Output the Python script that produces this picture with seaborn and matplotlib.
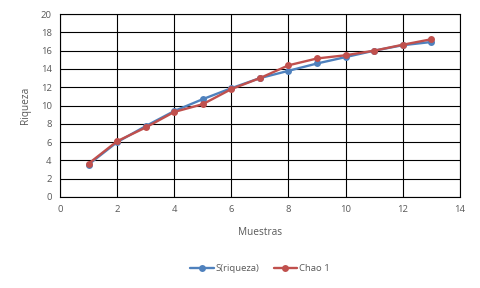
import pandas as pd
import matplotlib
matplotlib.use('Agg')
import matplotlib.pyplot as plt
import seaborn as sns

muestras = [1, 2, 3, 4, 5, 6, 7, 8, 9, 10, 11, 12, 13]
s_riqueza = [3.55, 6.0, 7.75, 9.4, 10.7, 11.9, 13.0, 13.8, 14.6, 15.3, 16.0, 16.6, 16.95]
chao1 = [3.65, 6.1, 7.6, 9.3, 10.15, 11.8, 13.0, 14.4, 15.15, 15.5, 16.0, 16.65, 17.25]

df = pd.DataFrame({'Muestras': muestras, 'S(riqueza)': s_riqueza, 'Chao 1': chao1})
melted = df.melt(id_vars='Muestras', var_name='Serie', value_name='Riqueza')

sns.set_style('white')
plt.rcParams['font.family'] = ['Open Sans', 'DejaVu Sans']

fig = plt.figure(figsize=(4.8, 2.88), dpi=100)
ax = fig.add_axes([0.125, 0.316, 0.833, 0.635])
sns.lineplot(data=melted, x='Muestras', y='Riqueza', hue='Serie', ax=ax,
             palette={'S(riqueza)': '#4F81BD', 'Chao 1': '#C0504D'},
             marker='o', markersize=5, markeredgewidth=0, linewidth=1.7)

ax.set_xlim(0, 14)
ax.set_ylim(0, 20)
ax.set_xticks(range(0, 15, 2))
ax.set_yticks(range(0, 21, 2))
ax.grid(True, color='black', linewidth=0.8)
for sp in ax.spines.values():
    sp.set_color('black')
    sp.set_linewidth(0.8)
ax.tick_params(axis='both', length=0, labelsize=6.8, colors='#595959', pad=6)
ax.set_xlabel('Muestras', fontsize=7.3, color='#595959', labelpad=9)
ax.set_ylabel('Riqueza', fontsize=7.3, color='#595959', labelpad=7)

handles, labels = ax.get_legend_handles_labels()
ax.legend(handles, labels, loc='upper center', bbox_to_anchor=(0.5, -0.32), ncol=2,
          frameon=False, fontsize=6.8, handlelength=2.5, columnspacing=1.5,
          labelcolor='#595959', handletextpad=0.2)

fig.savefig('out.png', dpi=100)
